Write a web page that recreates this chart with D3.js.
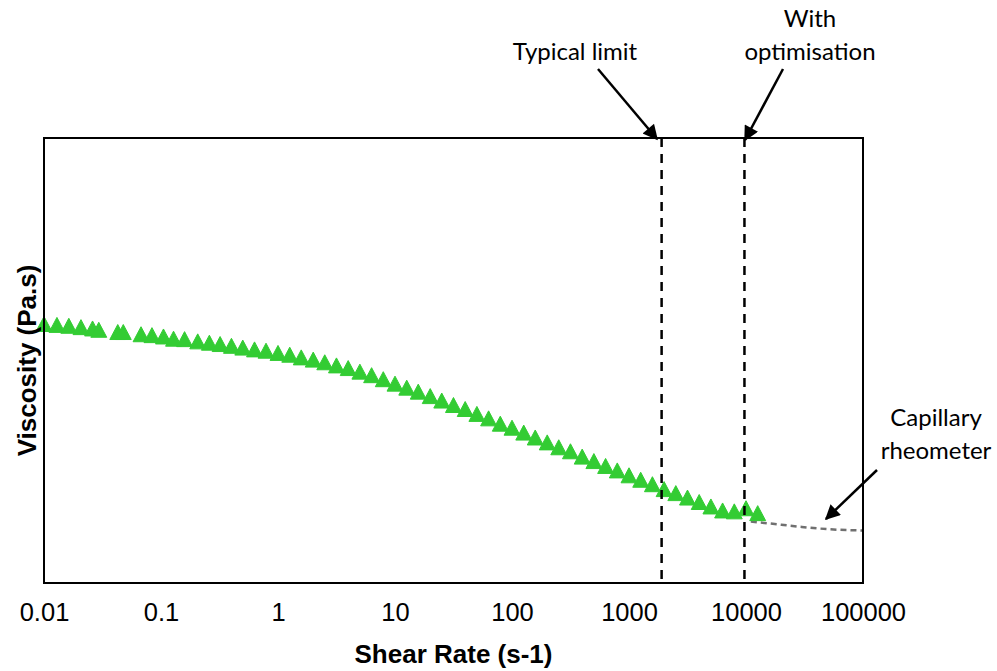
<!DOCTYPE html>
<html>
<head>
<meta charset="utf-8">
<script src="https://cdn.jsdelivr.net/npm/d3@7"></script>
<style>
  body { margin: 0; background: #fff; }
  svg { display: block; }
  .arial { font-family: Arial, "Liberation Sans", Helvetica, sans-serif; }
</style>
</head>
<body>
<svg id="chart" width="997" height="671"></svg>
<script>
// Data
const shearRates = [0.01, 0.0129, 0.0163, 0.0207, 0.026, 0.0294, 0.0427, 0.0476, 0.0675, 0.0837,
  0.105, 0.128, 0.159, 0.206, 0.259, 0.32, 0.40, 0.50, 0.63, 0.79,
  1.0, 1.26, 1.58, 2.0, 2.51, 3.16, 3.98, 5.01, 6.31, 7.94,
  10, 12.6, 15.8, 20, 25.1, 31.6, 39.8, 50.1, 63.1, 79.4,
  100, 126, 158, 200, 251, 316, 398, 501, 631, 794,
  1000, 1259, 1585, 1995, 2512, 3162, 3981, 5012, 6310, 7943,
  10000, 12589];
const viscosity = [58.2, 58.0, 57.8, 57.5, 57.2, 56.9, 56.4, 56.4, 55.9, 55.7,
  55.4, 54.9, 54.8, 54.3, 54.0, 53.7, 53.3, 52.9, 52.5, 52.2,
  51.7, 51.3, 50.7, 50.2, 49.6, 48.9, 48.3, 47.5, 46.7, 45.8,
  44.8, 43.9, 43.0, 42.0, 41.0, 40.0, 39.1, 38.0, 37.0, 35.8,
  34.9, 33.8, 32.7, 31.6, 30.5, 29.6, 28.4, 27.4, 26.3, 25.3,
  24.2, 23.2, 22.2, 21.1, 20.2, 19.2, 18.2, 17.2, 16.3, 16.1,
  16.8, 15.7];

// Capillary rheometer extension
const capRates = [11000, 20000, 30000, 50000, 100000];
const capViscosity = [13.8, 13.1, 12.6, 12.1, 11.8];

// Vertical limits
const limitRates = [1900, 9700];

const tickValues = [0.01, 0.1, 1, 10, 100, 1000, 10000, 100000];
const tickLabels = ["0.01", "0.1", "1", "10", "100", "1000", "10000", "100000"];

const svg = d3.select("#chart");
const margin = { top: 138, right: 134, bottom: 88, left: 44 };
const width = 997 - margin.left - margin.right;
const height = 671 - margin.top - margin.bottom;
const g = svg.append("g").attr("transform", `translate(${margin.left},${margin.top})`);

const x = d3.scaleLog().domain([0.01, 100000]).range([0, width]);
const y = d3.scaleLinear().domain([0, 100]).range([height, 0]);

// arrow head marker
svg.append("defs").append("marker")
  .attr("id", "arrow")
  .attr("viewBox", "0 0 10 10")
  .attr("refX", 9).attr("refY", 5)
  .attr("markerWidth", 7).attr("markerHeight", 6)
  .attr("markerUnits", "strokeWidth")
  .attr("orient", "auto")
  .append("path")
  .attr("d", "M0,0 L10,5 L0,10 Z")
  .attr("fill", "#000");

// x axis (labels only)
const xAxis = g.append("g")
  .attr("transform", `translate(0,${height})`)
  .call(d3.axisBottom(x).tickValues(tickValues).tickSize(0).tickPadding(20)
    .tickFormat((d, i) => tickLabels[i]));
xAxis.attr("font-family", null).attr("font-size", null);
xAxis.select(".domain").remove();
xAxis.selectAll("text")
  .attr("class", "arial")
  .style("font-size", "25.5px")
  .attr("fill", "#000");

// capillary dashed line
const capData = capRates.map((r, i) => ({ r, v: capViscosity[i] }));
g.append("path")
  .datum(capData)
  .attr("fill", "none")
  .attr("stroke", "#707070")
  .attr("stroke-width", 2.5)
  .attr("stroke-dasharray", "6,4")
  .attr("d", d3.line().x(d => x(d.r)).y(d => y(d.v)).curve(d3.curveMonotoneX));

// triangles
const tri = {
  draw(ctx, size) {
    const h = Math.sqrt(size);
    ctx.moveTo(0, -h / 2);
    ctx.lineTo(h * 0.53, h / 2);
    ctx.lineTo(-h * 0.53, h / 2);
    ctx.closePath();
  }
};
const pts = shearRates.map((r, i) => ({ r, v: viscosity[i] }));
g.selectAll(".pt")
  .data(pts)
  .enter().append("path")
  .attr("class", "pt")
  .attr("transform", d => `translate(${x(d.r)},${y(d.v)})`)
  .attr("d", d3.symbol().type(tri).size(225))
  .attr("fill", "#33cc33")
  .attr("stroke", "#33cc33")
  .attr("stroke-width", 1);

// vertical dashed limits
g.selectAll(".limit")
  .data(limitRates)
  .enter().append("line")
  .attr("x1", d => x(d)).attr("x2", d => x(d))
  .attr("y1", 0).attr("y2", height)
  .attr("stroke", "#000")
  .attr("stroke-width", 2.5)
  .attr("stroke-dasharray", "9,7");

// plot frame
g.append("rect")
  .attr("width", width).attr("height", height)
  .attr("fill", "none")
  .attr("stroke", "#000")
  .attr("stroke-width", 2);

// axis titles
svg.append("text")
  .attr("class", "arial")
  .attr("x", margin.left + width / 2).attr("y", 663)
  .attr("text-anchor", "middle")
  .style("font-weight", "bold").style("font-size", "26px")
  .text("Shear Rate (s-1)");

svg.append("text")
  .attr("class", "arial")
  .attr("transform", `translate(36,${margin.top + height / 2}) rotate(-90)`)
  .attr("text-anchor", "middle")
  .style("font-weight", "bold").style("font-size", "26px")
  .text("Viscosity (Pa.s)");

// annotations
const notes = [
  { lines: ["Typical limit"], tx: 575, ty: 60, from: [598, 69], to: [657, 139] },
  { lines: ["With", "optimisation"], tx: 810, ty: 27, from: [783, 69], to: [745, 140] },
  { lines: ["Capillary", "rheometer"], tx: 936, ty: 426, from: [877, 470], to: [826, 519] }
];
notes.forEach(n => {
  const t = svg.append("text")
    .attr("text-anchor", "middle")
    .attr("font-family", "Lato, 'Open Sans', sans-serif")
    .attr("font-size", 24)
    .attr("fill", "#000");
  n.lines.forEach((l, i) => {
    t.append("tspan").attr("x", n.tx).attr("y", n.ty + i * 33).text(l);
  });
  svg.append("line")
    .attr("x1", n.from[0]).attr("y1", n.from[1])
    .attr("x2", n.to[0]).attr("y2", n.to[1])
    .attr("stroke", "#000")
    .attr("stroke-width", 2.5)
    .attr("marker-end", "url(#arrow)");
});
</script>
</body>
</html>
